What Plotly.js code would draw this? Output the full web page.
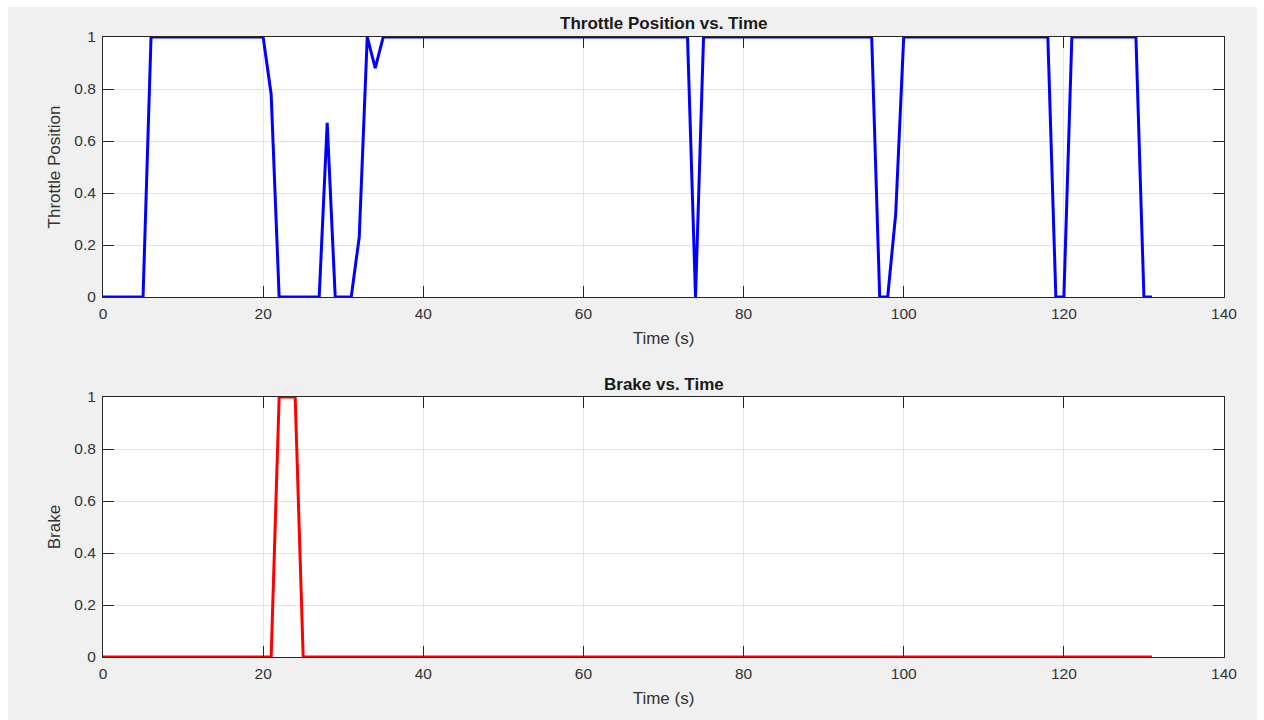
<!DOCTYPE html>
<html>
<head>
<meta charset="utf-8">
<script src="https://cdn.plot.ly/plotly-3.0.1.min.js"></script>
<style>html,body{margin:0;padding:0;background:#fff;}#chart{width:1264px;height:720px;}</style>
</head>
<body>
<div id="chart"></div>
<script>
// ---- data ----
const time = [
  0,1,2,3,4,5,6,7,8,9,10,11,12,13,14,15,16,17,18,19,
  20,21,22,23,24,25,26,27,28,29,30,31,32,33,34,35,36,37,38,39,
  40,41,42,43,44,45,46,47,48,49,50,51,52,53,54,55,56,57,58,59,
  60,61,62,63,64,65,66,67,68,69,70,71,72,73,74,75,76,77,78,79,
  80,81,82,83,84,85,86,87,88,89,90,91,92,93,94,95,96,97,98,99,
  100,101,102,103,104,105,106,107,108,109,110,111,112,113,114,115,116,117,118,119,
  120,121,122,123,124,125,126,127,128,129,130,131
];
const throttle = [
  0,0,0,0,0,0,1,1,1,1,1,1,1,1,1,1,1,1,1,1,
  1,0.78,0,0,0,0,0,0,0.67,0,0,0,0.23,1,0.88,1,1,1,1,1,
  1,1,1,1,1,1,1,1,1,1,1,1,1,1,1,1,1,1,1,1,
  1,1,1,1,1,1,1,1,1,1,1,1,1,1,0,1,1,1,1,1,
  1,1,1,1,1,1,1,1,1,1,1,1,1,1,1,1,1,0,0,0.32,
  1,1,1,1,1,1,1,1,1,1,1,1,1,1,1,1,1,1,1,0,
  0,1,1,1,1,1,1,1,1,1,0,0
];
const brake = [
  0,0,0,0,0,0,0,0,0,0,0,0,0,0,0,0,0,0,0,0,
  0,0,1,1,1,0,0,0,0,0,0,0,0,0,0,0,0,0,0,0,
  0,0,0,0,0,0,0,0,0,0,0,0,0,0,0,0,0,0,0,0,
  0,0,0,0,0,0,0,0,0,0,0,0,0,0,0,0,0,0,0,0,
  0,0,0,0,0,0,0,0,0,0,0,0,0,0,0,0,0,0,0,0,
  0,0,0,0,0,0,0,0,0,0,0,0,0,0,0,0,0,0,0,0,
  0,0,0,0,0,0,0,0,0,0,0,0
];
const xTickVals = [0,20,40,60,80,100,120,140];
const xTickText = ['0','20','40','60','80','100','120','140'];
const yTickVals = [0,0.2,0.4,0.6,0.8,1];
const yTickText = ['0','0.2','0.4','0.6','0.8','1'];
const titles = ['Throttle Position vs. Time', 'Brake vs. Time'];
const yLabels = ['Throttle Position', 'Brake'];
const xLabel = 'Time (s)';

// ---- styling ----
const FONT = 'Liberation Sans, Arial, Helvetica, sans-serif';
const AX = '#262626';
function xAxis(anchor){
  return {
    anchor: anchor, range: [0,140], tickvals: xTickVals, ticktext: xTickText,
    ticks: 'inside', ticklen: 11, tickwidth: 1, tickcolor: AX,
    showline: true, linecolor: AX, linewidth: 1, mirror: 'ticks',
    showgrid: true, gridcolor: '#e3e3e3', gridwidth: 1, zeroline: false,
    tickfont: {family: FONT, size: 15.5, color: '#333'}, ticklabelstandoff: 2,
    title: {text: xLabel, font: {family: FONT, size: 17, color: '#333'}, standoff: 11},
    fixedrange: true
  };
}
function yAxis(anchor, domain, label){
  return {
    anchor: anchor, domain: domain, range: [0,1], tickvals: yTickVals, ticktext: yTickText,
    ticks: 'inside', ticklen: 11, tickwidth: 1, tickcolor: AX,
    showline: true, linecolor: AX, linewidth: 1, mirror: 'ticks',
    showgrid: true, gridcolor: '#e3e3e3', gridwidth: 1, zeroline: false,
    tickfont: {family: FONT, size: 15.5, color: '#333'}, ticklabelstandoff: 3,
    title: {text: label, font: {family: FONT, size: 17, color: '#333'}, standoff: 9},
    fixedrange: true
  };
}

const traces = [
  {x: time, y: throttle, type: 'scatter', mode: 'lines', xaxis: 'x', yaxis: 'y',
   line: {color: '#0000ff', width: 3}, showlegend: false, hoverinfo: 'skip', cliponaxis: false},
  {x: time, y: brake, type: 'scatter', mode: 'lines', xaxis: 'x2', yaxis: 'y2',
   line: {color: '#ff0000', width: 3}, showlegend: false, hoverinfo: 'skip', cliponaxis: false}
];

const L = 103, R = 40, T = 37, B = 63, W = 1264, H = 720;
const PW = W - L - R, PH = H - T - B;
const px = v => (v - L) / PW;
const py = v => (H - B - v) / PH;

const layout = {
  width: W, height: H,
  margin: {l: L, r: R, t: T, b: B, pad: 0},
  paper_bgcolor: '#f0f0f0', plot_bgcolor: '#ffffff',
  font: {family: FONT, color: '#333'},
  xaxis: xAxis('y'),
  yaxis: yAxis('x', [1 - 260/PH, 1], yLabels[0]),
  xaxis2: xAxis('y2'),
  yaxis2: yAxis('x2', [0, 260/PH], yLabels[1]),
  annotations: [
    {text: '<b>' + titles[0] + '</b>', xref: 'paper', yref: 'paper', x: 0.5, y: py(24),
     xanchor: 'center', yanchor: 'middle', showarrow: false, font: {family: FONT, size: 17, color: '#1a1a1a'}},
    {text: '<b>' + titles[1] + '</b>', xref: 'paper', yref: 'paper', x: 0.5, y: py(384),
     xanchor: 'center', yanchor: 'middle', showarrow: false, font: {family: FONT, size: 17, color: '#1a1a1a'}}
  ],
  shapes: [
    {type: 'rect', xref: 'paper', yref: 'paper', x0: px(0), x1: px(W), y0: py(7), y1: py(0),
     fillcolor: '#ffffff', line: {width: 0}},
    {type: 'rect', xref: 'paper', yref: 'paper', x0: px(0), x1: px(8), y0: py(H), y1: py(0),
     fillcolor: '#ffffff', line: {width: 0}},
    {type: 'rect', xref: 'paper', yref: 'paper', x0: px(1257), x1: px(W), y0: py(H), y1: py(0),
     fillcolor: '#ffffff', line: {width: 0}}
  ]
};

Plotly.newPlot('chart', traces, layout, {displayModeBar: false, staticPlot: true});
</script>
</body>
</html>
